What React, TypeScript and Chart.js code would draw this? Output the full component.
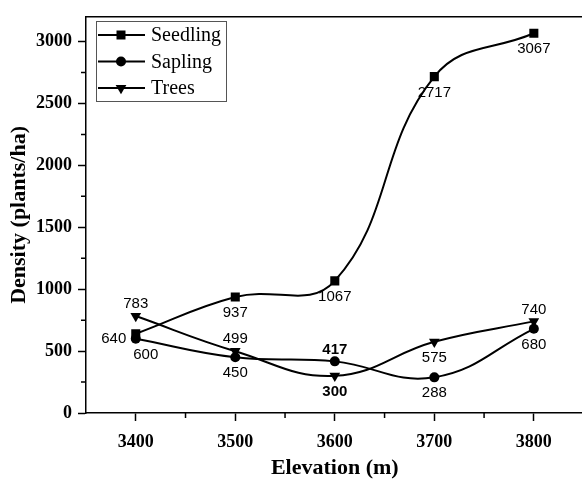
import React, { useEffect, useRef } from 'react';
import { Chart, registerables } from 'chart.js';

Chart.register(...registerables);

const elevations = [3400, 3500, 3600, 3700, 3800];
const seedling = [640, 937, 1067, 2717, 3067];
const sapling = [600, 450, 417, 288, 680];
const trees = [783, 499, 300, 575, 740];
const seriesNames = ['Seedling', 'Sapling', 'Trees'];
const xTickValues = [3400, 3500, 3600, 3700, 3800];
const xMinorValues = [3450, 3550, 3650, 3750];
const yTickValues = [0, 500, 1000, 1500, 2000, 2500, 3000];
const yMinorValues = [250, 750, 1250, 1750, 2250, 2750];
const labelPlacement = [
  ['left', 'below', 'below', 'below', 'below'],
  ['belowRight', 'below', 'above', 'below', 'below'],
  ['above', 'above', 'below', 'below', 'above'],
];
const labelBold = [
  [false, false, false, false, false],
  [false, false, true, false, false],
  [false, false, true, false, false],
];

const markerStyles = ['rect', 'circle', 'triangle'];
const markerRadius = [6.4, 5, 6.2];
const markerRotation = [0, 0, 180];

function drawMarker(ctx: CanvasRenderingContext2D, kind: string, x: number, y: number) {
  ctx.fillStyle = '#000';
  ctx.beginPath();
  if (kind === 'rect') {
    ctx.rect(x - 4.5, y - 4.5, 9, 9);
  } else if (kind === 'circle') {
    ctx.arc(x, y, 5, 0, Math.PI * 2);
  } else {
    const r = 6.2;
    ctx.moveTo(x - r * 0.866, y - r * 0.5);
    ctx.lineTo(x + r * 0.866, y - r * 0.5);
    ctx.lineTo(x, y + r);
    ctx.closePath();
  }
  ctx.fill();
}

const decorPlugin = {
  id: 'decor',
  afterDatasetsDraw(chart: any) {
    const ctx: CanvasRenderingContext2D = chart.ctx;
    ctx.save();
    ctx.fillStyle = '#000';
    ctx.textAlign = 'center';
    ctx.textBaseline = 'middle';
    chart.data.datasets.forEach((ds: any, di: number) => {
      const meta = chart.getDatasetMeta(di);
      meta.data.forEach((pt: any, i: number) => {
        const place = labelPlacement[di][i];
        let dx = 0;
        let dy = 0;
        if (place === 'below') dy = 16;
        else if (place === 'above') dy = -12;
        else if (place === 'left') { dx = -22; dy = 5; }
        else if (place === 'belowRight') { dx = 10; dy = 16; }
        ctx.font = (labelBold[di][i] ? 'bold ' : '') + '15px "Liberation Sans", Arial, sans-serif';
        ctx.fillText(String(ds.data[i].y), pt.x + dx, pt.y + dy);
      });
    });
    ctx.restore();
  },
  afterDraw(chart: any) {
    const ctx: CanvasRenderingContext2D = chart.ctx;
    const area = chart.chartArea;
    const xs = chart.scales.x;
    const ys = chart.scales.y;
    ctx.save();
    ctx.strokeStyle = '#000';
    ctx.lineWidth = 1.5;
    ctx.beginPath();
    ctx.moveTo(area.left, area.top);
    ctx.lineTo(area.right, area.top);
    ctx.lineTo(area.right, area.bottom);
    ctx.stroke();
    ctx.beginPath();
    xMinorValues.forEach((v) => {
      const px = xs.getPixelForValue(v);
      ctx.moveTo(px, area.bottom);
      ctx.lineTo(px, area.bottom + 5);
    });
    yMinorValues.forEach((v) => {
      const py = ys.getPixelForValue(v);
      ctx.moveTo(area.left, py);
      ctx.lineTo(area.left - 5, py);
    });
    ctx.stroke();
    const bx = 96.5, by = 21.5, bw = 130, bh = 80;
    ctx.lineWidth = 1;
    ctx.strokeStyle = '#555';
    ctx.strokeRect(bx, by, bw, bh);
    ctx.font = '20px "Liberation Serif", "Times New Roman", serif';
    ctx.textAlign = 'left';
    ctx.textBaseline = 'middle';
    seriesNames.forEach((name, i) => {
      const y = 35 + i * 26.5;
      ctx.strokeStyle = '#000';
      ctx.lineWidth = 2;
      ctx.beginPath();
      ctx.moveTo(98, y);
      ctx.lineTo(145, y);
      ctx.stroke();
      drawMarker(ctx, markerStyles[i], 121, y);
      ctx.fillStyle = '#000';
      ctx.fillText(name, 151, y + 1);
    });
    ctx.restore();
  },
};

export default function App() {
  const canvasRef = useRef<HTMLCanvasElement | null>(null);

  useEffect(() => {
    if (!canvasRef.current) return;
    const series = [seedling, sapling, trees];
    const chart = new Chart(canvasRef.current, {
      type: 'line',
      data: {
        datasets: series.map((vals, i) => ({
          label: seriesNames[i],
          data: vals.map((v, j) => ({ x: elevations[j], y: v })),
          borderColor: '#000',
          backgroundColor: '#000',
          borderWidth: 2,
          tension: 0.42,
          pointStyle: markerStyles[i] as any,
          pointRadius: markerRadius[i],
          pointRotation: markerRotation[i],
          pointBorderWidth: 0,
          pointBackgroundColor: '#000',
          fill: false,
        })),
      },
      options: {
        animation: false,
        responsive: false,
        devicePixelRatio: 1,
        layout: { padding: { top: 10, right: 6, left: 0, bottom: 0 } },
        plugins: {
          legend: { display: false },
          tooltip: { enabled: false },
        },
        scales: {
          x: {
            type: 'linear',
            min: 3350,
            max: 3850,
            afterBuildTicks: (scale: any) => {
              scale.ticks = xTickValues.map((value) => ({ value }));
            },
            afterFit: (scale: any) => {
              scale.height = 69;
            },
            grid: {
              display: true,
              drawOnChartArea: false,
              drawTicks: true,
              tickLength: 8,
              tickWidth: 1.5,
              tickColor: '#000',
              color: '#000',
            },
            border: { display: true, color: '#000', width: 1.5 },
            ticks: {
              color: '#000',
              padding: 11,
              maxRotation: 0,
              font: { family: '"Liberation Serif", "Times New Roman", serif', size: 18, weight: 'bold' },
              callback: (v: any) => String(v),
            },
            title: {
              display: true,
              text: 'Elevation (m)',
              color: '#000',
              padding: { top: 0, bottom: 0 },
              font: { family: '"Liberation Serif", "Times New Roman", serif', size: 22, weight: 'bold' },
            },
          },
          y: {
            type: 'linear',
            min: 0,
            max: 3200,
            afterBuildTicks: (scale: any) => {
              scale.ticks = yTickValues.map((value) => ({ value }));
            },
            afterFit: (scale: any) => {
              scale.width = 86;
            },
            grid: {
              display: true,
              drawOnChartArea: false,
              drawTicks: true,
              tickLength: 8,
              tickWidth: 1.5,
              tickColor: '#000',
              color: '#000',
            },
            border: { display: true, color: '#000', width: 1.5 },
            ticks: {
              color: '#000',
              padding: 6,
              font: { family: '"Liberation Serif", "Times New Roman", serif', size: 18, weight: 'bold' },
              callback: (v: any) => String(v),
            },
            title: {
              display: true,
              text: 'Density (plants/ha)',
              color: '#000',
              padding: { top: 6, bottom: 0 },
              font: { family: '"Liberation Serif", "Times New Roman", serif', size: 22, weight: 'bold' },
            },
          },
        },
      },
      plugins: [decorPlugin],
    });
    return () => chart.destroy();
  }, []);

  return (
    <div
      style={{
        position: 'fixed',
        left: 0,
        top: 0,
        width: 582,
        height: 482,
        overflow: 'hidden',
        background: '#fff',
      }}
    >
      <canvas ref={canvasRef} width={590} height={482} style={{ display: 'block' }} />
    </div>
  );
}
